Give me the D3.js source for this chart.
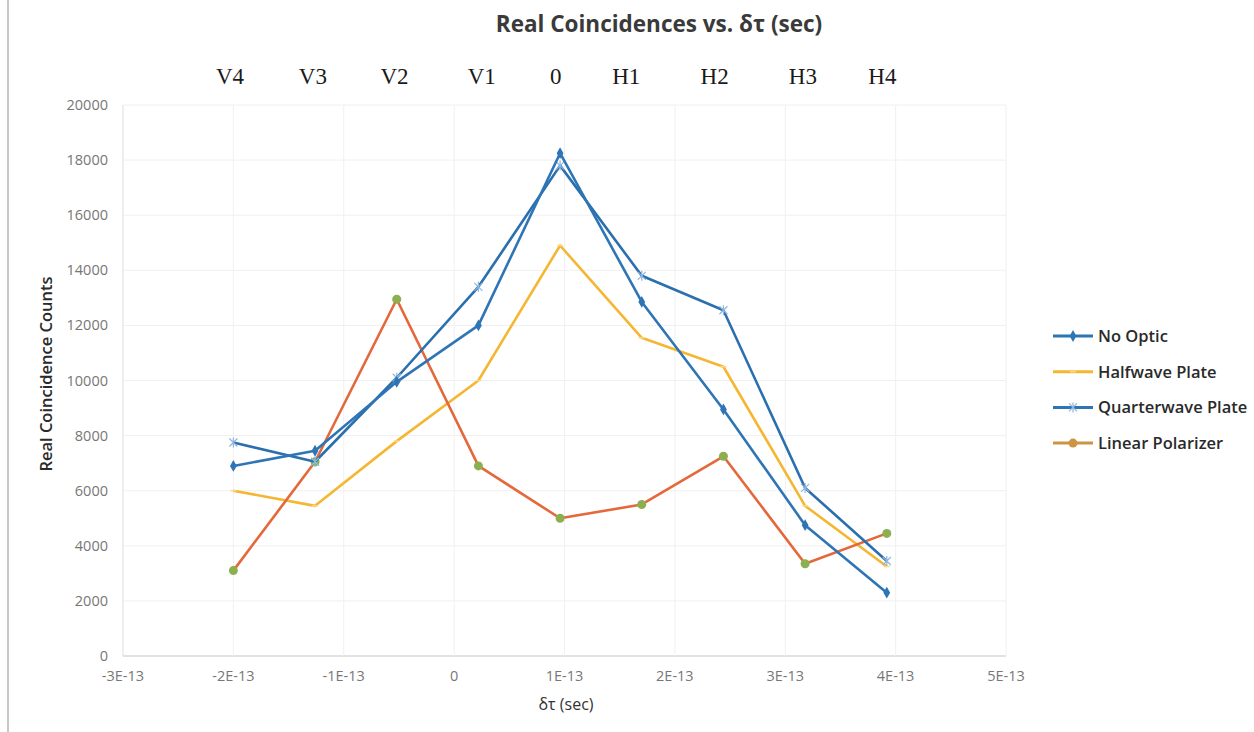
<!DOCTYPE html>
<html lang="en">
<head>
<meta charset="UTF-8">
<title>Real Coincidences</title>
<script src="https://d3js.org/d3.v7.min.js"></script>
<style>
  body { margin: 0; background: #fff; }
  text { font-family: "Open Sans", "DejaVu Sans", sans-serif; }
</style>
</head>
<body>
<script>
// delta tau positions (units of 1E-13 s)
var dtau = [-2.0, -1.26, -0.52, 0.22, 0.96, 1.70, 2.44, 3.18, 3.92];
var stepNames = ["V4", "V3", "V2", "V1", "0", "H1", "H2", "H3", "H4"];
var stepLabelX = [-2.03, -1.28, -0.54, 0.25, 0.92, 1.56, 2.36, 3.16, 3.88];

var noOptic = [6900, 7450, 9950, 12000, 18250, 12850, 8950, 4750, 2300];
var halfwave = [6000, 5450, 7800, 10000, 14900, 11550, 10500, 5450, 3250];
var quarterwave = [7750, 7050, 10100, 13400, 17800, 13800, 12550, 6100, 3450];
var linearPol = [3100, 7050, 12950, 6900, 5000, 5500, 7250, 3350, 4450];

var xTicks = [-3, -2, -1, 0, 1, 2, 3, 4, 5];
var yTicks = [0, 2000, 4000, 6000, 8000, 10000, 12000, 14000, 16000, 18000, 20000];

var series = [
  {name: "No Optic", values: noOptic, color: "#2e75b6", legendColor: "#2e75b6", marker: "diamond"},
  {name: "Halfwave Plate", values: halfwave, color: "#f5b632", legendColor: "#f5b632", marker: "dash"},
  {name: "Quarterwave Plate", values: quarterwave, color: "#2a6fae", legendColor: "#2e75b6", marker: "star"},
  {name: "Linear Polarizer", values: linearPol, color: "#e4683a", legendColor: "#cc9545", marker: "circle"}
];

var W = 1254, H = 732;
var svg = d3.select("body").append("svg").attr("width", W).attr("height", H);

// scan border on the left
svg.append("line").attr("x1", 8).attr("x2", 8).attr("y1", 0).attr("y2", H)
  .style("stroke", "#b5b5b5").style("stroke-width", 1.5);

var x = d3.scaleLinear().domain([-3, 5]).range([123, 1006]);
var y = d3.scaleLinear().domain([0, 20000]).range([656, 105]);

// grid
svg.append("g").selectAll("line").data(yTicks).enter().append("line")
  .attr("x1", x(-3)).attr("x2", x(5))
  .attr("y1", function(d){ return y(d); }).attr("y2", function(d){ return y(d); })
  .style("stroke", function(d){ return d == 0 ? "#d9d9d9" : "#f0f0f0"; })
  .style("stroke-width", function(d){ return d == 0 ? 1.5 : 1; });
svg.append("g").selectAll("line").data(xTicks).enter().append("line")
  .attr("y1", y(0)).attr("y2", y(20000))
  .attr("x1", function(d){ return x(d); }).attr("x2", function(d){ return x(d); })
  .style("stroke", function(d){ return d == -3 ? "#dedede" : "#f0f0f0"; })
  .style("stroke-width", 1);

// y tick labels
svg.append("g").selectAll("text").data(yTicks).enter().append("text")
  .attr("x", 108).attr("y", function(d){ return y(d) + 5; })
  .attr("text-anchor", "end").attr("font-size", 14.5).attr("fill", "#777")
  .text(function(d){ return d; });

// x tick labels
function fmtX(d){ return d == 0 ? "0" : d + "E-13"; }
svg.append("g").selectAll("text").data(xTicks).enter().append("text")
  .attr("x", function(d){ return x(d); }).attr("y", 681)
  .attr("text-anchor", "middle").attr("font-size", 14.5).attr("fill", "#777")
  .text(fmtX);

// titles
svg.append("text").attr("x", 659).attr("y", 32).attr("text-anchor", "middle")
  .attr("font-size", 22.5).attr("font-weight", "bold").attr("fill", "#3a3a3a")
  .text("Real Coincidences vs. δτ (sec)");
svg.append("text").attr("x", 566).attr("y", 710).attr("text-anchor", "middle")
  .attr("font-size", 16).attr("fill", "#333").text("δτ (sec)");
svg.append("text").attr("transform", "translate(52,374) rotate(-90)")
  .attr("text-anchor", "middle").attr("font-size", 16.5).attr("font-weight", 600).attr("fill", "#2a2a2a")
  .text("Real Coincidence Counts");

// step labels on top
svg.append("g").selectAll("text").data(stepNames).enter().append("text")
  .attr("x", function(d, i){ return x(stepLabelX[i]); }).attr("y", 84)
  .attr("text-anchor", "middle").attr("font-size", 23)
  .style("font-family", "'Liberation Serif', 'DejaVu Serif', serif").attr("fill", "#1a1a1a")
  .text(function(d){ return d; });

var line = d3.line()
  .x(function(d, i){ return x(dtau[i]); })
  .y(function(d){ return y(d); });

function drawMarker(g, type, color) {
  if (type == "diamond") {
    g.append("path").attr("d", d3.symbol().type(d3.symbolDiamond).size(40)())
      .style("fill", color);
  } else if (type == "circle") {
    g.append("circle").attr("r", 4.5).style("fill", "#8cb04f");
  } else if (type == "star") {
    g.append("path").attr("d", "M-4,-4L4,4M-4,4L4,-4M0,-5L0,5")
      .style("stroke", "#8fb6dc").style("stroke-width", 1.2);
  } else if (type == "dash") {
    g.append("path").attr("d", "M-3,0L3,0").style("stroke", "#f9d98a").style("stroke-width", 1.5);
  }
}

var draw = [series[1], series[3], series[2], series[0]];
draw.forEach(function(s) {
  svg.append("path").datum(s.values).attr("d", line)
    .style("fill", "none").style("stroke", s.color).style("stroke-width", 2.6)
    .style("stroke-linejoin", "round");
  svg.append("g").selectAll("g").data(s.values).enter().append("g")
    .attr("transform", function(d, i){ return "translate(" + x(dtau[i]) + "," + y(d) + ")"; })
    .each(function(){ drawMarker(d3.select(this), s.marker, s.color); });
});

// legend
var leg = svg.append("g").selectAll("g").data(series).enter().append("g")
  .attr("transform", function(d, i){ return "translate(1053," + (336 + i * 35.7) + ")"; });
leg.append("line").attr("x1", 0).attr("x2", 40).attr("y1", 0).attr("y2", 0)
  .style("stroke", function(d){ return d.legendColor; }).style("stroke-width", 3);
leg.each(function(d){
  var g = d3.select(this).append("g").attr("transform", "translate(20,0)");
  if (d.marker == "circle") {
    g.append("circle").attr("r", 4.5).style("fill", d.legendColor);
  } else {
    drawMarker(g, d.marker, d.color);
  }
});
leg.append("text").attr("x", 45).attr("y", 6).attr("font-size", 16.5).attr("font-weight", 600)
  .attr("fill", "#2a2a2a")
  .text(function(d){ return d.name; });
</script>
</body>
</html>
